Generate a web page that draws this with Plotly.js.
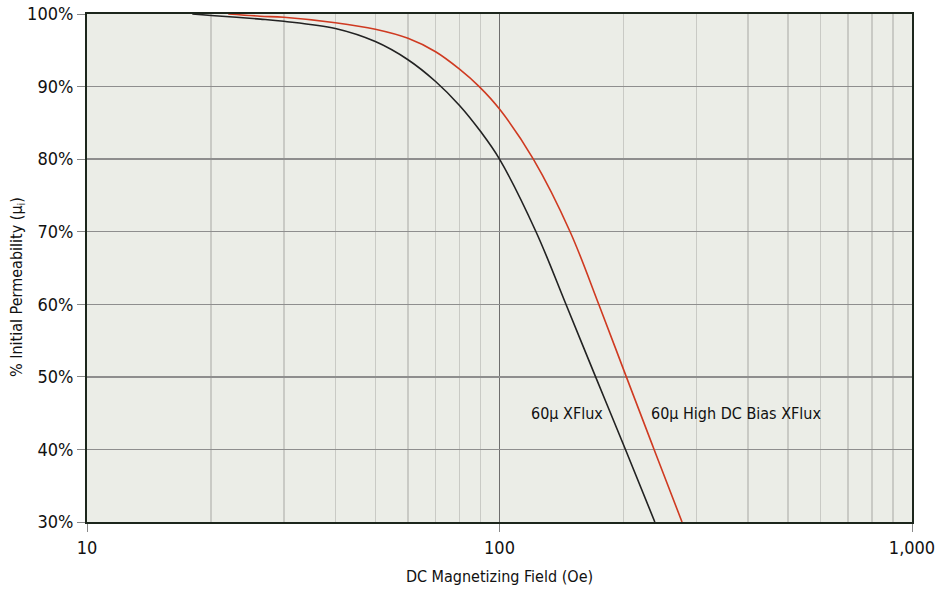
<!DOCTYPE html>
<html>
<head>
<meta charset="utf-8">
<script src="https://cdn.plot.ly/plotly-3.0.1.min.js"></script>
<style>html,body{margin:0;padding:0;background:#fff;}#chart{width:950px;height:592px;}</style>
</head>
<body>
<div id="chart"></div>
<script>
// Series: 60u XFlux (black)
const xfluxField = [18, 20, 26.3, 30, 40, 50, 60, 70, 80, 90, 100, 122.6, 144.9, 171, 202, 238];
const xfluxPerm  = [100, 99.8, 99.3, 99.0, 98.0, 96.2, 93.7, 90.7, 87.4, 83.8, 80, 70, 60, 50, 40, 30];
// Series: 60u High DC Bias XFlux (red)
const hdcField = [22, 26.3, 30, 40, 50, 60, 70, 80, 89.3, 100, 120.8, 148.3, 174, 203, 237, 277];
const hdcPerm  = [100, 99.7, 99.55, 98.8, 97.9, 96.65, 94.8, 92.4, 90, 86.9, 80, 70, 60, 50, 40, 30];

const xTickVals = [10, 100, 1000];
const xTickText = ['10', '100', '1,000'];
const xMinorVals = [20, 30, 40, 50, 60, 70, 80, 90, 200, 300, 400, 500, 600, 700, 800, 900];
const yTickVals = [30, 40, 50, 60, 70, 80, 90, 100];
const yTickText = ['30%', '40%', '50%', '60%', '70%', '80%', '90%', '100%'];

const labelBlack = '60μ XFlux';
const labelRed = '60μ High DC Bias XFlux';
const labelBlackPos = [117.9, 45];
const labelRedPos = [230.6, 45];
const yTitle = '% Initial Permeability (μ<sub>i</sub>)';
const xTitle = 'DC Magnetizing Field (Oe)';

const FONT = '"DejaVu Sans Condensed", "DejaVu Sans", sans-serif';

const traces = [
  {x: xfluxField, y: xfluxPerm, mode: 'lines', type: 'scatter', name: labelBlack,
   line: {color: '#222222', width: 1.6, shape: 'spline', smoothing: 1.0}, hoverinfo: 'skip'},
  {x: hdcField, y: hdcPerm, mode: 'lines', type: 'scatter', name: labelRed,
   line: {color: '#cf3a21', width: 1.6, shape: 'spline', smoothing: 1.0}, hoverinfo: 'skip'}
];

const layout = {
  width: 950, height: 592,
  margin: {l: 87, r: 38, t: 14, b: 70},
  paper_bgcolor: '#ffffff',
  plot_bgcolor: '#ebede7',
  showlegend: false,
  font: {family: FONT, color: '#111', size: 17},
  xaxis: {
    type: 'log', range: [1, 3],
    tickmode: 'array', tickvals: xTickVals, ticktext: xTickText,
    showgrid: true, gridcolor: '#6e6e6e', gridwidth: 1,
    ticks: 'outside', ticklen: 8, tickcolor: '#888', tickwidth: 1,
    showline: true, linecolor: '#1c261c', linewidth: 2, mirror: true,
    zeroline: false,
    tickfont: {family: FONT, size: 18, color: '#111'},
    minor: {tickmode: 'array', tickvals: xMinorVals, showgrid: true, gridcolor: '#c9cac5', gridwidth: 1.5, ticks: ''},
    title: {text: xTitle, font: {family: FONT, size: 16, color: '#111'}, standoff: 14}
  },
  yaxis: {
    range: [30, 100],
    tickmode: 'array', tickvals: yTickVals, ticktext: yTickText,
    showgrid: true, gridcolor: '#8e8e8e', gridwidth: 1.5,
    ticks: 'outside', ticklen: 8, tickcolor: '#888', tickwidth: 1,
    showline: true, linecolor: '#1c261c', linewidth: 2, mirror: true,
    zeroline: false,
    tickfont: {family: FONT, size: 18, color: '#111'}
  },
  annotations: [
    {x: Math.log10(labelBlackPos[0]), y: labelBlackPos[1], xref: 'x', yref: 'y', text: labelBlack,
     showarrow: false, xanchor: 'left', yanchor: 'middle', font: {family: FONT, size: 16, color: '#111'}},
    {x: Math.log10(labelRedPos[0]), y: labelRedPos[1], xref: 'x', yref: 'y', text: labelRed,
     showarrow: false, xanchor: 'left', yanchor: 'middle', font: {family: FONT, size: 16, color: '#111'}},
    {x: -0.0836, y: 0.4626, xref: 'paper', yref: 'paper', text: yTitle, textangle: -90,
     showarrow: false, xanchor: 'center', yanchor: 'middle', font: {family: FONT, size: 16, color: '#111'}}
  ]
};

Plotly.newPlot('chart', traces, layout, {staticPlot: true, displayModeBar: false});
</script>
</body>
</html>
